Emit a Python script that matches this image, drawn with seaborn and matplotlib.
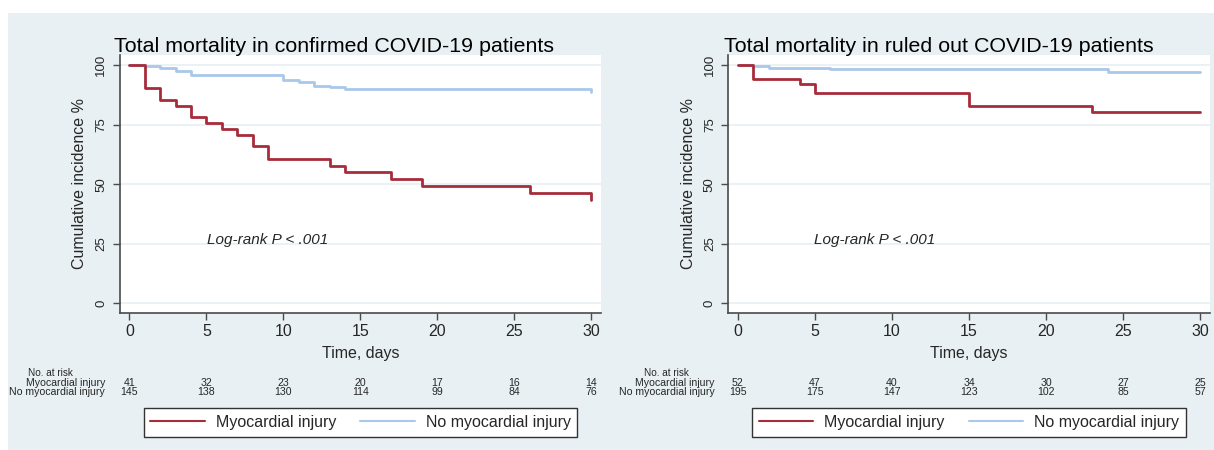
import pandas as pd
import matplotlib
matplotlib.use("Agg")
import matplotlib.pyplot as plt
import matplotlib.transforms as mtransforms
from matplotlib.lines import Line2D
from matplotlib.patches import Rectangle
import seaborn as sns

# Kaplan-Meier steps (time in days, survival %)
conf_inj_t = [0, 1, 2, 3, 4, 5, 6, 7, 8, 9, 13, 14, 17, 19, 26, 30]
conf_inj_s = [100, 90.2, 85.3, 82.8, 78.0, 75.6, 73.2, 70.7, 65.9, 60.5, 57.7, 55.0, 52.2, 49.4, 46.4, 43.3]
conf_no_t = [0, 1, 2, 3, 4, 10, 11, 12, 13, 14, 30]
conf_no_s = [100, 99.5, 98.6, 97.3, 95.9, 93.8, 93.0, 91.3, 90.6, 89.9, 88.8]

out_inj_t = [0, 1, 4, 5, 15, 23, 30]
out_inj_s = [100, 94.2, 92.2, 88.3, 82.9, 80.1, 80.1]
out_no_t = [0, 1, 2, 6, 24, 30]
out_no_s = [100, 99.5, 98.9, 98.2, 97.2, 97.2]

# numbers at risk
risk_days = [0, 5, 10, 15, 20, 25, 30]
conf_risk_inj = [41, 32, 23, 20, 17, 16, 14]
conf_risk_no = [145, 138, 130, 114, 99, 84, 76]
out_risk_inj = [52, 47, 40, 34, 30, 27, 25]
out_risk_no = [195, 175, 147, 123, 102, 85, 57]

titles = ["Total mortality in confirmed COVID-19 patients",
          "Total mortality in ruled out COVID-19 patients"]
groups = ["Myocardial injury", "No myocardial injury"]

RED = "#a82b3a"
BLUE = "#a9c8ea"
BG = "#e8f0f3"
AXC = "#4a4a4a"

sns.set_theme(style="white")
plt.rcParams["font.family"] = ["Liberation Sans", "DejaVu Sans"]


def make_df(inj_t, inj_s, no_t, no_s):
    a = pd.DataFrame({"time": no_t, "surv": no_s, "group": groups[1]})
    b = pd.DataFrame({"time": inj_t, "surv": inj_s, "group": groups[0]})
    return pd.concat([a, b], ignore_index=True)


panels = [
    (make_df(conf_inj_t, conf_inj_s, conf_no_t, conf_no_s), conf_risk_inj, conf_risk_no),
    (make_df(out_inj_t, out_inj_s, out_no_t, out_no_s), out_risk_inj, out_risk_no),
]

W, H = 1214, 450
fig = plt.figure(figsize=(W / 100, H / 100), dpi=100)
fig.patch.set_facecolor("white")
fig.patches.append(Rectangle((8 / W, 0), 1 - 8 / W, 1 - 13 / H, transform=fig.transFigure,
                             facecolor=BG, edgecolor="none", zorder=-5))

ax_left = [119.8, 728.4]
ax_w = 481.5
ax_bot = 1 - 312.7 / H
ax_h = (312.7 - 55) / H
row_lbl_x = [105, 714.7]
risk_hdr_x = [50, 666.6]
logrank_x = [206.7, 814]
title_dx = [-6, -4]
RISK_FS = 7.6

for i, (df, r_inj, r_no) in enumerate(panels):
    ax = fig.add_axes([ax_left[i] / W, ax_bot, ax_w / W, ax_h])
    ax.set_facecolor("white")
    sns.lineplot(data=df, x="time", y="surv", hue="group",
                 hue_order=[groups[1], groups[0]],
                 palette={groups[0]: RED, groups[1]: BLUE},
                 estimator=None, sort=False, drawstyle="steps-post",
                 linewidth=2, legend=False, ax=ax)

    ax.set_xlim(-0.62, 30.64)
    ax.set_ylim(-3.9, 104.2)
    ax.set_xticks(risk_days)
    ax.set_yticks([0, 25, 50, 75, 100])
    ax.grid(axis="y", color=BG, linewidth=1.2)
    ax.set_axisbelow(True)
    for s in ["top", "right"]:
        ax.spines[s].set_visible(False)
    for s in ["left", "bottom"]:
        ax.spines[s].set_color(AXC)
        ax.spines[s].set_linewidth(1.2)
    ax.tick_params(axis="both", direction="out", length=5, width=1, color=AXC,
                   left=True, bottom=True)
    ax.tick_params(axis="x", labelsize=11.5, pad=3)
    ax.tick_params(axis="y", labelsize=9.5, pad=4)
    for lbl in ax.get_yticklabels():
        lbl.set_rotation(90)
        lbl.set_va("center")

    ax.set_xlabel("Time, days", fontsize=11.5, labelpad=5)
    ax.set_ylabel("Cumulative incidence %", fontsize=11.5, labelpad=6)

    ax.text(title_dx[i] / ax_w, 1 + 3 / (ax_h * H), titles[i], transform=ax.transAxes,
            fontsize=15.4, ha="left", va="baseline", color="black")
    ax.text(logrank_x[i] / W, 1 - 240 / H, "Log-rank P < .001", transform=fig.transFigure,
            fontsize=11, style="italic", ha="left", va="center")

    # numbers-at-risk table
    tr = mtransforms.blended_transform_factory(ax.transData, fig.transFigure)
    fig.text(risk_hdr_x[i] / W, 1 - 373.5 / H, "No. at risk", fontsize=7.2,
             ha="center", va="center")
    fig.text(row_lbl_x[i] / W, 1 - 383 / H, groups[0], fontsize=RISK_FS, ha="right", va="center")
    fig.text(row_lbl_x[i] / W, 1 - 392 / H, groups[1], fontsize=RISK_FS, ha="right", va="center")
    for d, a, b in zip(risk_days, r_inj, r_no):
        ax.text(d, 1 - 383 / H, str(a), transform=tr, fontsize=RISK_FS, ha="center", va="center")
        ax.text(d, 1 - 392 / H, str(b), transform=tr, fontsize=RISK_FS, ha="center", va="center")

    handles = [Line2D([], [], color=RED, lw=1.5), Line2D([], [], color=BLUE, lw=1.5)]
    leg = ax.legend(handles, groups, loc="center", ncol=2, fontsize=11.5,
                    bbox_to_anchor=((ax_left[i] + ax_w / 2) / W, 1 - 422.5 / H),
                    bbox_transform=fig.transFigure, frameon=True, fancybox=False,
                    edgecolor="#333333", facecolor="white", framealpha=1,
                    handlelength=3.4, handletextpad=0.7, columnspacing=1.5,
                    borderpad=0.42, borderaxespad=0)
    leg.get_frame().set_linewidth(1.0)

fig.savefig("out.png", dpi=100, facecolor=fig.get_facecolor())
